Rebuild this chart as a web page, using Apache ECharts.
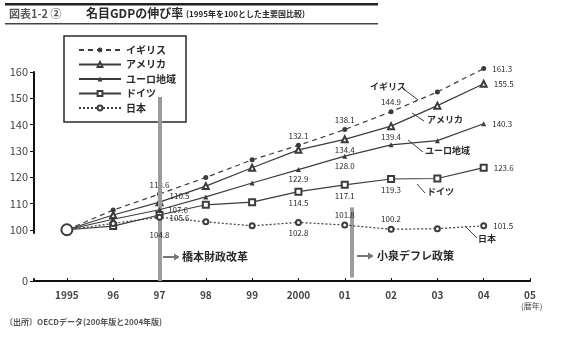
<!DOCTYPE html>
<html><head><meta charset="utf-8">
<script src="https://cdn.jsdelivr.net/npm/echarts@6/dist/echarts.min.js"></script>
<style>html,body{margin:0;padding:0;background:#fff}#c{width:562px;height:338px}</style>
</head><body><div id="c"></div>
<script>
// ---- data ----
const years = [1995, 1996, 1997, 1998, 1999, 2000, 2001, 2002, 2003, 2004];
const xTickValues = [1995, 1996, 1997, 1998, 1999, 2000, 2001, 2002, 2003, 2004, 2005];
const xTickLabels = ['1995', '96', '97', '98', '99', '2000', '01', '02', '03', '04', '05'];
const yTickValues = [0, 100, 110, 120, 130, 140, 150, 160];
const seriesNames = ['イギリス', 'アメリカ', 'ユーロ地域', 'ドイツ', '日本'];
const uk      = [100, 107.5, 113.6, 119.9, 126.6, 132.1, 138.1, 144.9, 152.4, 161.3];
const us      = [100, 105.6, 110.5, 116.6, 123.6, 130.4, 134.4, 139.4, 147.2, 155.5];
const euro    = [100, 104.0, 107.6, 112.5, 117.8, 122.9, 128.0, 132.3, 133.9, 140.3];
const germany = [100, 101.4, 105.6, 109.5, 110.5, 114.5, 117.1, 119.3, 119.5, 123.6];
const japan   = [100, 102.4, 104.8, 103.0, 101.5, 102.8, 101.8, 100.2, 100.4, 101.5];
const policyYears = [1997, 2001.15];
const policyTop = [150.5, 108.5];
const policyNames = ['橋本財政改革', '小泉デフレ政策'];

// ---- style ----
const FONT = '"Noto Sans CJK JP", "Noto Sans", sans-serif';
const INK = '#2a2a2a';
const LINE = '#3c3c3c';
// [position, offsetY]
const labelPos = [
  {2: ['top', 0], 5: ['top', 0], 6: ['top', 0], 7: ['top', 0], 9: ['right', 0]},
  {2: ['right', -6], 6: ['bottom', 0], 7: ['bottom', 0], 9: ['right', 0]},
  {2: ['right', 0], 5: ['bottom', 0], 6: ['bottom', 0], 9: ['right', 0]},
  {2: ['right', 3], 5: ['bottom', 0], 6: ['bottom', 0], 7: ['bottom', 0], 9: ['right', 0]},
  {2: ['bottom', 7], 5: ['bottom', 0], 6: ['top', 0], 7: ['top', 0], 9: ['right', 0]}
];
const symbols = ['circle', 'emptyTriangle', 'triangle', 'emptyRect', 'emptyCircle'];
const symbolSizes = [5, 6, 5, 6, 5];
const lineTypes = [[5, 4], 'solid', 'solid', 'solid', [2, 2]];
const allValues = [uk, us, euro, germany, japan];

function buildData(vals, si) {
  return vals.map((v, i) => {
    const item = {value: [years[i], v]};
    if (i === 0) {
      if (si === 4) { item.symbol = 'emptyCircle'; item.symbolSize = 11; }
      else item.symbol = 'none';
    }
    const pos = labelPos[si][i];
    if (pos) {
      item.label = {show: true, position: pos[0], distance: pos[0] === 'right' ? 6 : 3,
        offset: [0, pos[1]],
        formatter: p => p.value[1].toFixed(1),
        fontFamily: FONT, fontSize: 8, color: INK};
    }
    return item;
  });
}

const series = seriesNames.map((name, si) => ({
  name, type: 'line', data: buildData(allValues[si], si), clip: false,
  symbol: symbols[si], symbolSize: symbolSizes[si], showAllSymbol: true,
  itemStyle: {color: LINE, borderWidth: 1.2},
  lineStyle: {color: LINE, width: 1.2, type: lineTypes[si]},
  z: 3 + si, animation: false
}));

series.push({
  name: 'policy', type: 'line', data: [], animation: false,
  markLine: {
    symbol: 'none', silent: true, animation: false,
    lineStyle: {color: '#9c9c9c', width: 4, type: 'solid'},
    label: {show: false},
    data: policyYears.map((x, i) => [{coord: [x, policyTop[i]]}, {coord: [x, i === 0 ? 0 : 3]}])
  }
});

const chart = echarts.init(document.getElementById('c'));
chart.setOption({
  backgroundColor: '#fff',
  animation: false,
  grid: {left: 34, right: 32, top: 72, bottom: 57},
  legend: {
    data: seriesNames, orient: 'vertical', left: 64, top: 36,
    itemWidth: 42, itemHeight: 6, itemGap: 4.5, padding: [9, 10, 9, 14],
    borderColor: INK, borderWidth: 1.5,
    textStyle: {fontFamily: FONT, fontSize: 10, lineHeight: 10, color: INK, fontWeight: 'bold'}
  },
  xAxis: {
    type: 'value', min: 1994.29, max: 2005,
    axisLine: {show: true, lineStyle: {color: '#111', width: 2}},
    axisTick: {show: true, inside: true, length: 3, customValues: xTickValues, lineStyle: {color: '#111'}},
    axisLabel: {customValues: xTickValues, formatter: v => xTickLabels[xTickValues.indexOf(Math.round(v))],
      fontFamily: FONT, fontSize: 10, color: '#444', fontWeight: 'bold', margin: 9},
    splitLine: {show: false}
  },
  yAxis: {
    type: 'value', min: 0, max: 160,
    breaks: [{start: 1, end: 99, gap: '22%'}],
    breakArea: {show: false},
    axisLine: {show: true, lineStyle: {color: '#111', width: 2}},
    axisTick: {show: true, length: 4, customValues: yTickValues, lineStyle: {color: '#111'}},
    axisLabel: {customValues: yTickValues, fontFamily: FONT, fontSize: 11, color: '#444', margin: 6},
    splitLine: {show: false}
  },
  series,
  graphic: [
    // title band
    {type: 'rect', shape: {x: 5, y: 3, width: 373, height: 2.5}, style: {fill: '#222'}, silent: true},
    {type: 'rect', shape: {x: 5, y: 23, width: 373, height: 1.5}, style: {fill: '#444'}, silent: true},
    {type: 'text', left: 9, top: 8, style: {text: '図表1-2 ②', fontFamily: FONT, fontSize: 11, fontWeight: 'bold', fill: '#555'}},
    {type: 'text', left: 86, top: 7, style: {text: '名目GDPの伸び率', fontFamily: FONT, fontSize: 12, fontWeight: 'bold', fill: INK}},
    {type: 'text', left: 186, top: 10, style: {text: '(1995年を100とした主要国比較)', fontFamily: FONT, fontSize: 8, fontWeight: 'bold', fill: INK}},
    // series name annotations
    {type: 'polyline', shape: {points: [[405, 90], [418, 100]]}, style: {stroke: LINE, lineWidth: 1}},
    {type: 'text', left: 370, top: 82, style: {text: 'イギリス', fontFamily: FONT, fontSize: 9, fill: INK, fontWeight: 'bold'}},
    {type: 'polyline', shape: {points: [[412, 113], [424, 121]]}, style: {stroke: LINE, lineWidth: 1}},
    {type: 'text', left: 427, top: 115, style: {text: 'アメリカ', fontFamily: FONT, fontSize: 9, fill: INK, fontWeight: 'bold'}},
    {type: 'polyline', shape: {points: [[408, 140], [423, 152]]}, style: {stroke: LINE, lineWidth: 1}},
    {type: 'text', left: 425, top: 146, style: {text: 'ユーロ地域', fontFamily: FONT, fontSize: 9, fill: INK, fontWeight: 'bold'}},
    {type: 'polyline', shape: {points: [[417, 184], [425, 193]]}, style: {stroke: LINE, lineWidth: 1}},
    {type: 'text', left: 427, top: 187, style: {text: 'ドイツ', fontFamily: FONT, fontSize: 9, fill: INK, fontWeight: 'bold'}},
    {type: 'polyline', shape: {points: [[465, 226], [477, 238]]}, style: {stroke: LINE, lineWidth: 1}},
    {type: 'text', left: 478, top: 234, style: {text: '日本', fontFamily: FONT, fontSize: 9, fill: INK, fontWeight: 'bold'}},
    // policy arrows and texts
    {type: 'polyline', shape: {points: [[163, 257], [178, 257]]}, style: {stroke: '#777', lineWidth: 2}},
    {type: 'polyline', shape: {points: [[174, 254], [179, 257], [174, 260]]}, style: {stroke: '#777', fill: '#777', lineWidth: 1}},
    {type: 'text', left: 182, top: 251, style: {text: policyNames[0], fontFamily: FONT, fontSize: 11, fontWeight: 'bold', fill: INK}},
    {type: 'polyline', shape: {points: [[357, 256], [372, 256]]}, style: {stroke: '#777', lineWidth: 2}},
    {type: 'polyline', shape: {points: [[368, 253], [373, 256], [368, 259]]}, style: {stroke: '#777', fill: '#777', lineWidth: 1}},
    {type: 'text', left: 377, top: 250, style: {text: policyNames[1], fontFamily: FONT, fontSize: 11, fontWeight: 'bold', fill: INK}},
    // x unit and source
    {type: 'text', left: 521, top: 302, style: {text: '(暦年)', fontFamily: FONT, fontSize: 8, fill: '#444'}},
    {type: 'text', left: 5, top: 318, style: {text: '〔出所〕OECDデータ(200年版と2004年版)', fontFamily: FONT, fontSize: 8, fontWeight: 'bold', fill: '#555'}}
  ]
});
</script></body></html>
